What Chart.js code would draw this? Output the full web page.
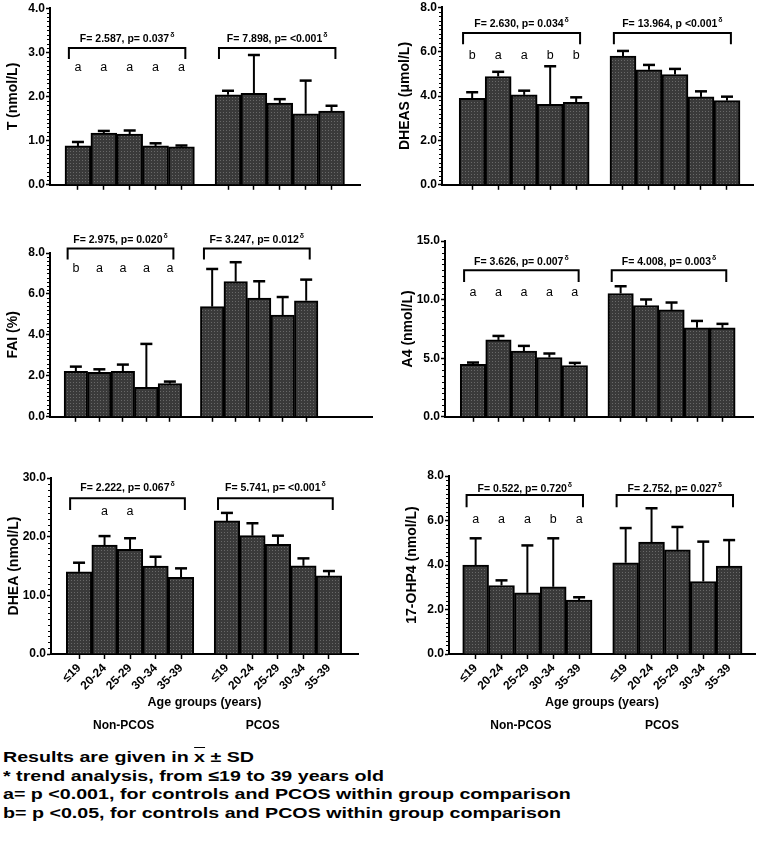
<!DOCTYPE html>
<html>
<head>
<meta charset="utf-8">
<script src="https://cdn.jsdelivr.net/npm/chart.js@4.4.1/dist/chart.umd.min.js"></script>
<style>
  body { margin: 0; background: #fff; width: 762px; height: 851px; position: relative; overflow: hidden;
         font-family: "Liberation Sans", Arial, sans-serif; }
  #notes { position: absolute; left: 3px; top: 748px; font-weight: bold; font-size: 15px; line-height: 18.5px;
           color: #000; transform: scaleX(1.31); transform-origin: 0 0; white-space: nowrap; }
</style>
</head>
<body>
<div id="notes">
  <div>Results are given in <span style="text-decoration:overline">x</span> ± SD</div>
  <div>* trend analysis, from ≤19 to 39 years old</div>
  <div>a= p &lt;0.001, for controls and PCOS within group comparison</div>
  <div>b= p &lt;0.05, for controls and PCOS within group comparison</div>
</div>
<script>
// categories
var ageGroups = ['≤19', '20-24', '25-29', '30-34', '35-39'];
var groupNames = ['Non-PCOS', 'PCOS'];

// y axes
var axisTitles = ['T (nmol/L)', 'DHEAS (μmol/L)', 'FAI (%)', 'A4 (nmol/L)', 'DHEA (nmol/L)', '17-OHP4 (nmol/L)'];
var yMax = [4, 8, 8, 15, 30, 8];
var yStep = [1, 2, 2, 5, 10, 2];

// mean and SD per age group
var tNon = [0.88, 1.17, 1.15, 0.88, 0.86];
var tNonSd = [0.09, 0.05, 0.08, 0.06, 0.03];
var tPcos = [2.04, 2.07, 1.85, 1.61, 1.67];
var tPcosSd = [0.09, 0.87, 0.09, 0.75, 0.12];

var dheasNon = [3.90, 4.88, 4.05, 3.62, 3.72];
var dheasNonSd = [0.27, 0.21, 0.19, 1.72, 0.22];
var dheasPcos = [5.80, 5.18, 4.97, 3.96, 3.79];
var dheasPcosSd = [0.23, 0.22, 0.25, 0.25, 0.18];

var faiNon = [2.22, 2.17, 2.22, 1.44, 1.62];
var faiNonSd = [0.23, 0.15, 0.33, 2.12, 0.10];
var faiPcos = [5.38, 6.60, 5.80, 4.97, 5.67];
var faiPcosSd = [1.84, 0.95, 0.82, 0.88, 1.03];

var a4Non = [4.47, 6.56, 5.60, 5.06, 4.38];
var a4NonSd = [0.16, 0.34, 0.45, 0.34, 0.22];
var a4Pcos = [10.52, 9.50, 9.12, 7.59, 7.59];
var a4PcosSd = [0.62, 0.51, 0.63, 0.59, 0.34];

var dheaNon = [14.0, 18.58, 17.85, 14.99, 13.06];
var dheaNonSd = [1.56, 1.52, 1.88, 1.59, 1.54];
var dheaPcos = [22.68, 20.17, 18.70, 15.04, 13.33];
var dheaPcosSd = [1.37, 2.12, 1.47, 1.26, 0.81];

var ohpNon = [4.00, 3.08, 2.75, 3.02, 2.42];
var ohpNonSd = [1.20, 0.23, 2.13, 2.18, 0.13];
var ohpPcos = [4.10, 5.03, 4.68, 3.26, 3.95];
var ohpPcosSd = [1.56, 1.52, 1.03, 1.79, 1.17];

// trend statistics and letters
var statsNon = ['F= 2.587, p= 0.037', 'F= 2.630, p= 0.034', 'F= 2.975, p= 0.020',
                'F= 3.626, p= 0.007', 'F= 2.222, p= 0.067', 'F= 0.522, p= 0.720'];
var statsPcos = ['F= 7.898, p= <0.001', 'F= 13.964, p <0.001', 'F= 3.247, p= 0.012',
                 'F= 4.008, p= 0.003', 'F= 5.741, p= <0.001', 'F= 2.752, p= 0.027'];
var letters = [
  ['a', 'a', 'a', 'a', 'a'],
  ['b', 'a', 'a', 'b', 'b'],
  ['b', 'a', 'a', 'a', 'a'],
  ['a', 'a', 'a', 'a', 'a'],
  ['', 'a', 'a', '', ''],
  ['a', 'a', 'a', 'b', 'a']
];

var means = [[tNon, tPcos], [dheasNon, dheasPcos], [faiNon, faiPcos], [a4Non, a4Pcos], [dheaNon, dheaPcos], [ohpNon, ohpPcos]];
var sds = [[tNonSd, tPcosSd], [dheasNonSd, dheasPcosSd], [faiNonSd, faiPcosSd], [a4NonSd, a4PcosSd], [dheaNonSd, dheaPcosSd], [ohpNonSd, ohpPcosSd]];

// layout: plot area in page pixels, x range in slots, bracket/letter heights in axis units
var GAP = 5.8;
var layout = [
  { l: 50,  t: 7,   r: 360, b: 185, xmin: -1.08, xmax: 10.9, br: [3.10, 2.85, 3.30, 2.65], row: 0 },
  { l: 442, t: 6,   r: 753, b: 185, xmin: -1.16, xmax: 10.8, br: [6.84, 6.33, 7.22, 5.80], row: 0 },
  { l: 50,  t: 253, r: 372, b: 417, xmin: -1.10, xmax: 12.6, br: [8.22, 7.68, 8.63, 7.24], row: 1 },
  { l: 445, t: 241, r: 753, b: 417, xmin: -1.10, xmax: 11.0, br: [12.5, 11.5, 13.2, 10.57], row: 1 },
  { l: 51,  t: 478, r: 358, b: 654, xmin: -1.10, xmax: 10.94, br: [26.56, 24.56, 28.27, 24.27], row: 2 },
  { l: 449, t: 476, r: 755, b: 654, xmin: -1.03, xmax: 10.8, br: [7.15, 6.59, 7.42, 6.05], row: 2 }
];

Chart.defaults.font.family = '"Liberation Sans", Arial, sans-serif';
Chart.defaults.color = '#000';

function dotPattern() {
  var c = document.createElement('canvas');
  c.width = 3; c.height = 3;
  var g = c.getContext('2d');
  g.fillStyle = '#3a3a3a';
  g.fillRect(0, 0, 3, 3);
  g.fillStyle = '#686868';
  g.fillRect(1, 1, 1, 1);
  return g.createPattern(c, 'repeat');
}

var positions = [];
ageGroups.forEach(function (a, i) { positions.push(i); });
ageGroups.forEach(function (a, i) { positions.push(i + GAP); });

function makeExtras(n, lay) {
  return {
    id: 'extras',
    afterDatasetsDraw: function (chart) {
      var ctx = chart.ctx, xs = chart.scales.x, ys = chart.scales.y, area = chart.chartArea;
      ctx.save();
      ctx.strokeStyle = '#000';
      ctx.fillStyle = '#000';

      // minor ticks on the y axis
      var minor = yStep[n] / 10;
      ctx.lineWidth = 1;
      ctx.beginPath();
      for (var k = 1; k * minor <= yMax[n] + 1e-9; k++) {
        if (k % 10 === 0) continue;
        var py = Math.round(ys.getPixelForValue(k * minor)) + 0.5;
        ctx.moveTo(area.left - 3, py);
        ctx.lineTo(area.left, py);
      }
      ctx.stroke();

      // error bars (upper only)
      [0, 1].forEach(function (g) {
        means[n][g].forEach(function (m, i) {
          var px = xs.getPixelForValue(i + g * GAP);
          var y0 = ys.getPixelForValue(m);
          var y1 = ys.getPixelForValue(m + sds[n][g][i]);
          ctx.lineWidth = 2;
          ctx.beginPath(); ctx.moveTo(px, y0); ctx.lineTo(px, y1); ctx.stroke();
          ctx.lineWidth = 2.5;
          ctx.beginPath(); ctx.moveTo(px - 6, y1); ctx.lineTo(px + 6, y1); ctx.stroke();
        });
      });

      // brackets with trend statistics
      var br = lay.br;
      [statsNon[n], statsPcos[n]].forEach(function (txt, g) {
        var first = g * GAP, last = first + ageGroups.length - 1;
        var xl = xs.getPixelForValue(first - 0.35), xr = xs.getPixelForValue(last + 0.15);
        var yt = ys.getPixelForValue(br[0]), yb = ys.getPixelForValue(br[1]);
        ctx.lineWidth = 2;
        ctx.beginPath();
        ctx.moveTo(xl, yb); ctx.lineTo(xl, yt); ctx.lineTo(xr, yt); ctx.lineTo(xr, yb);
        ctx.stroke();
        ctx.font = 'bold 10.5px "Liberation Sans", Arial, sans-serif';
        var w1 = ctx.measureText(txt).width;
        ctx.font = 'bold 7px "Liberation Sans", Arial, sans-serif';
        var w2 = ctx.measureText('δ').width;
        var x0 = (xl + xr) / 2 - (w1 + w2 + 1) / 2, ty = ys.getPixelForValue(br[2]);
        ctx.textBaseline = 'middle';
        ctx.textAlign = 'left';
        ctx.font = 'bold 10.5px "Liberation Sans", Arial, sans-serif';
        ctx.fillText(txt, x0, ty);
        ctx.font = 'bold 7px "Liberation Sans", Arial, sans-serif';
        ctx.fillText('δ', x0 + w1 + 1, ty - 4);
      });

      // letters above the Non-PCOS bars
      ctx.font = '12.5px "Liberation Sans", Arial, sans-serif';
      ctx.textAlign = 'center';
      ctx.textBaseline = 'middle';
      letters[n].forEach(function (s, i) {
        ctx.fillText(s, xs.getPixelForValue(i), ys.getPixelForValue(br[3]));
      });

      // group names under the bottom row
      if (lay.row === 2) {
        ctx.font = 'bold 12px "Liberation Sans", Arial, sans-serif';
        var shift = [-0.25, -0.6];
        groupNames.forEach(function (name, g) {
          var mid = g * GAP + (ageGroups.length - 1) / 2 + shift[g];
          ctx.fillText(name, xs.getPixelForValue(mid), area.bottom + 72);
        });
      }
      ctx.restore();
    }
  };
}

layout.forEach(function (lay, n) {
  var bottomRow = lay.row === 2;
  var padTop = lay.row === 0 ? 7 : 28;
  var xH = bottomRow ? 56 : 8;
  var padBottom = bottomRow ? 30 : 0;
  var padRight = 6;

  var cv = document.createElement('canvas');
  cv.width = lay.r - lay.l + 50 + padRight;
  cv.height = padTop + (lay.b - lay.t) + xH + padBottom;
  cv.style.position = 'absolute';
  cv.style.left = (lay.l - 50) + 'px';
  cv.style.top = (lay.t - padTop) + 'px';
  document.body.appendChild(cv);

  var pts = [];
  means[n][0].forEach(function (v, i) { pts.push({ x: positions[i], y: v }); });
  means[n][1].forEach(function (v, i) { pts.push({ x: positions[i + ageGroups.length], y: v }); });

  new Chart(cv, {
    type: 'bar',
    data: {
      datasets: [{
        data: pts,
        backgroundColor: dotPattern(),
        borderColor: '#000',
        borderWidth: 2,
        barPercentage: 1,
        categoryPercentage: 1
      }]
    },
    options: {
      responsive: false,
      animation: false,
      layout: { padding: { top: padTop, bottom: padBottom, left: 0, right: padRight } },
      plugins: { legend: { display: false }, tooltip: { enabled: false } },
      scales: {
        x: {
          type: 'linear',
          min: lay.xmin,
          max: lay.xmax,
          offset: false,
          afterBuildTicks: function (s) { s.ticks = positions.map(function (v) { return { value: v }; }); },
          afterFit: function (s) { s.height = xH; },
          grid: { offset: false, drawOnChartArea: false, tickLength: 5, tickWidth: 1.5, tickColor: '#000' },
          border: { color: '#000', width: 2 },
          ticks: {
            display: bottomRow, autoSkip: false, minRotation: 45, maxRotation: 45, padding: 2,
            font: { size: 12, weight: 'bold' },
            callback: function (v, i) { return ageGroups[i % ageGroups.length]; }
          },
          title: { display: bottomRow, text: 'Age groups (years)', font: { size: 12.5, weight: 'bold' }, padding: 0 }
        },
        y: {
          min: 0,
          max: yMax[n],
          afterFit: function (s) { s.width = 50; },
          grid: { drawOnChartArea: false, tickLength: 4, tickWidth: 1.5, tickColor: '#000' },
          border: { color: '#000', width: 2 },
          ticks: {
            stepSize: yStep[n], padding: 1,
            font: { size: 12, weight: 'bold' },
            callback: function (v) { return v.toFixed(1); }
          },
          title: { display: true, text: axisTitles[n], font: { size: 14, weight: 'bold' }, padding: { top: 5, bottom: 0 } }
        }
      }
    },
    plugins: [makeExtras(n, lay)]
  });
});
</script>
</body>
</html>
